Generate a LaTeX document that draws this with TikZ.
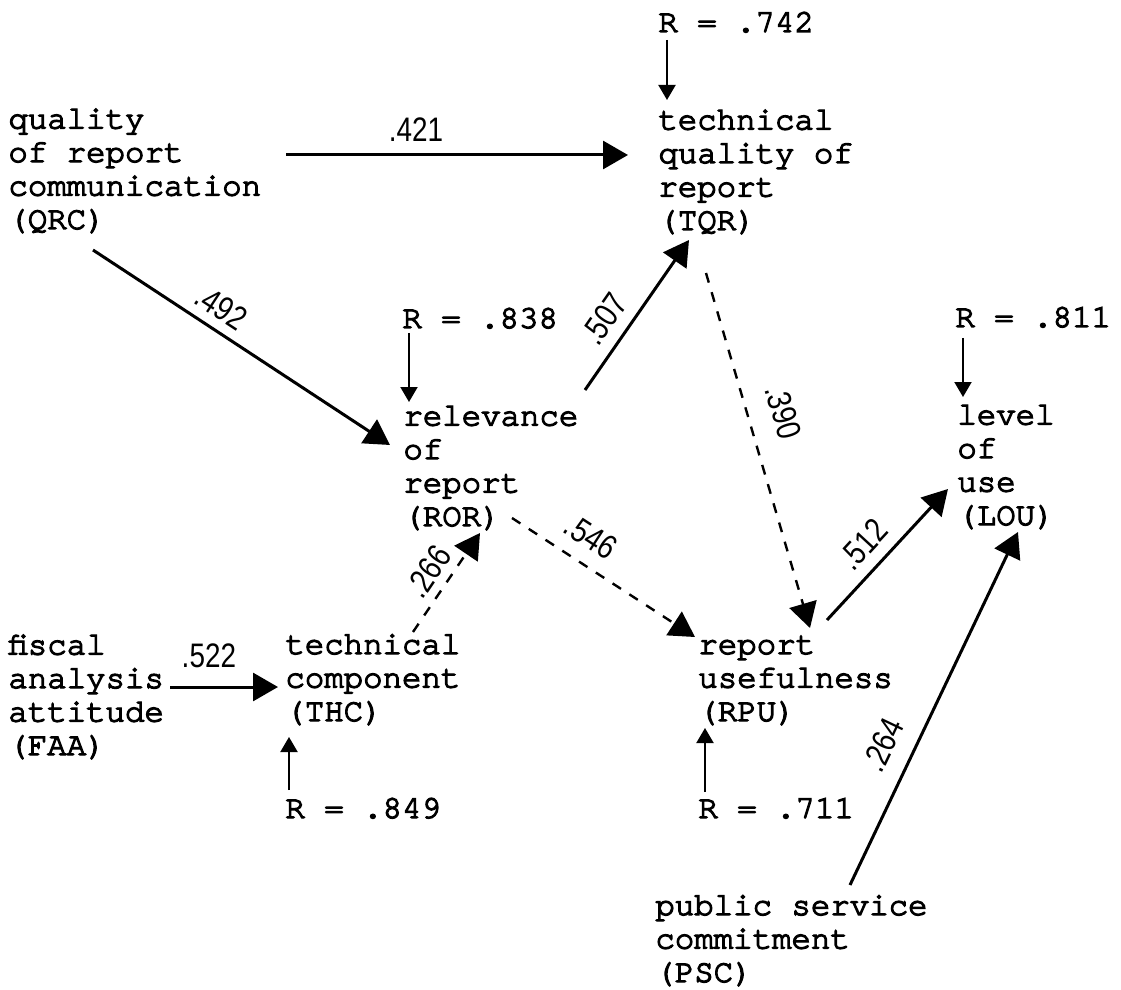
\documentclass[tikz,border=0pt]{standalone}
\usepackage{fontspec}
\usepackage{tikz}
\usetikzlibrary{calc, arrows.meta}
\newfontfamily\typer{texgyrecursor-regular.otf}[BoldFont={texgyrecursor-regular.otf}, BoldFeatures={FakeBold=4}]
\newfontfamily\coeff{Liberation Sans}[FakeStretch=0.82]

\begin{document}
\begin{tikzpicture}[x = 0.5pt, y = -0.5pt,
    var/.style = {anchor=base west, inner sep=0, align=left, font=\typer\bfseries\fontsize{16.2}{16.75}\selectfont},
    effect/.style = {line width=1.5pt, -{Triangle[length=12.5pt, width=14pt]}},
    weak/.style = {effect, line width=1.2pt, dash pattern=on 5pt off 5pt},
    resid/.style = {line width=1pt, -{Triangle[length=7.5pt, width=8.5pt]}},
    coef/.style = {font=\coeff\fontsize{17}{17}\selectfont, inner sep=0, sloped}]
    \useasboundingbox (0,0) rectangle (1121,990);

    % the variables (placed at the baseline of their last line)
        \node[var] (qrc) at (8,229) {quality\\of report\\communication\\(QRC)};
        \node[var] (tqr) at (658,230) {technical\\quality of\\report\\(TQR)};
        \node[var] (ror) at (403,526) {relevance\\of\\report\\(ROR)};
        \node[var] (lou) at (957,525) {level\\of\\use\\(LOU)};
        \node[var] (faa) at (8,755) {fiscal\\analysis\\attitude\\(FAA)};
        \node[var] (thc) at (285,721) {technical\\component\\(THC)};
        \node[var] (rpu) at (698,721) {report\\usefulness\\(RPU)};
        \node[var] (psc) at (655,982) {public service\\commitment\\(PSC)};

    % residuals
        \node[var] (rtqr) at (658,32) {R = .742};
        \node[var] (rror) at (402,328) {R = .838};
        \node[var] (rlou) at (955,327) {R = .811};
        \node[var] (rthc) at (285,818) {R = .849};
        \node[var] (rrpu) at (698,818) {R = .711};
        \draw[resid] ($(rtqr.base west) + (9,8)$) -- ($(tqr.base west) + (9,-130)$);
        \draw[resid] ($(rror.base west) + (7,5)$) -- ($(ror.base west) + (6,-124)$);
        \draw[resid] ($(rlou.base west) + (8,11)$) -- ($(lou.base west) + (6,-128)$);
        \draw[resid] ($(rthc.base west) + (4,-28)$) -- ($(thc.base west) + (4,16)$);
        \draw[resid] ($(rrpu.base west) + (7,-26)$) -- ($(rpu.base west) + (7,7)$);

    % the paths
        \draw[effect] ($(qrc.base west) + (278,-74)$) -- node[coef, pos=0.38, above=6pt] {.421} ($(tqr.base west) + (-30,-75)$);
        \draw[effect] ($(qrc.base west) + (85,21)$) -- node[coef, pos=0.39, above=4.5pt] {.492} ($(ror.base west) + (-13,-81)$);
        \draw[effect] ($(ror.base west) + (182,-136)$) -- node[coef, pos=0.38, above=5.5pt] {.507} ($(tqr.base west) + (31,10)$);
        \draw[weak] ($(tqr.base west) + (48,43)$) -- node[coef, pos=0.42, above=11pt] {.390} ($(rpu.base west) + (112,-93)$);
        \draw[weak] ($(ror.base west) + (109,-8)$) -- node[coef, pos=0.35, above=7pt] {.546} ($(rpu.base west) + (-3,-84)$);
        \draw[weak] ($(thc.base west) + (128,-89)$) -- node[coef, pos=0.49, above=4pt] {.266} ($(ror.base west) + (77,7)$);
        \draw[effect] ($(faa.base west) + (162,-68)$) -- node[coef, pos=0.36, above=9pt] {.522} ($(thc.base west) + (-7,-34)$);
        \draw[effect] ($(rpu.base west) + (129,-101)$) -- node[coef, pos=0.45, above=5.5pt] {.512} ($(lou.base west) + (-9,-36)$);
        \draw[effect] ($(psc.base west) + (195,-97)$) -- node[coef, pos=0.36, above=8.5pt] {.264} ($(lou.base west) + (61,7)$);
\end{tikzpicture}
\end{document}
